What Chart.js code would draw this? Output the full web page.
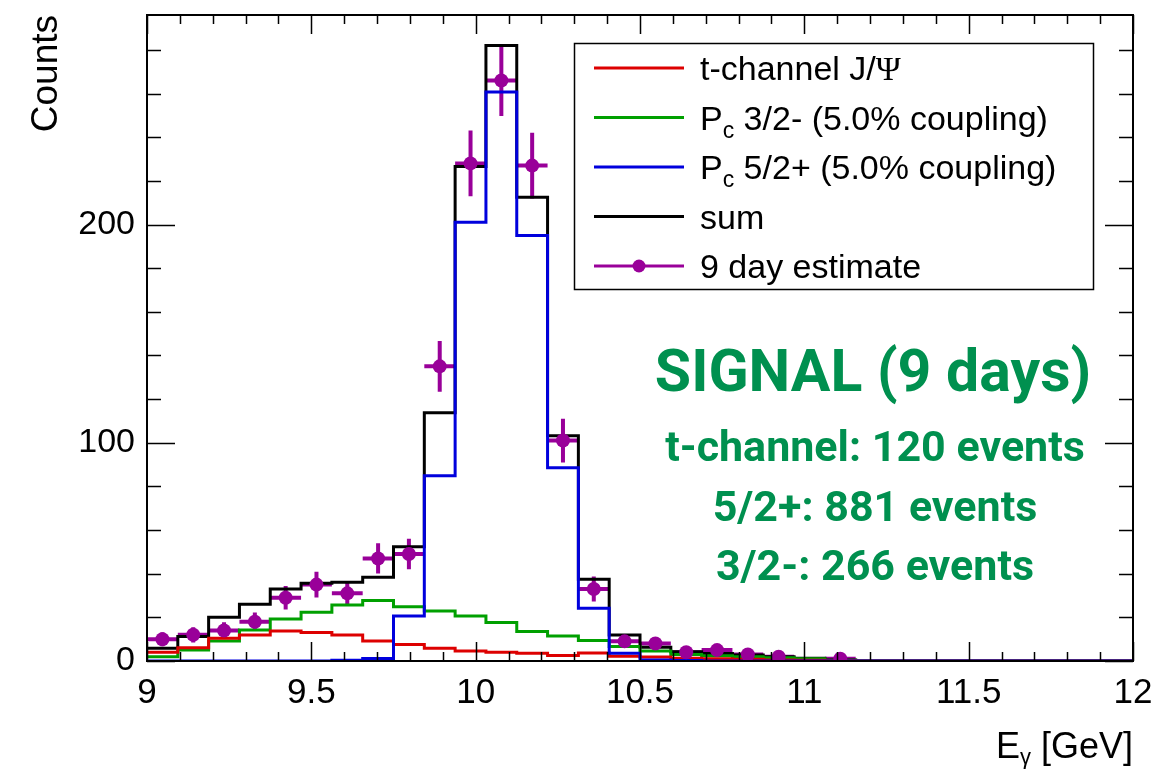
<!DOCTYPE html>
<html>
<head>
<meta charset="utf-8">
<title>SIGNAL (9 days)</title>
<script src="https://cdn.jsdelivr.net/npm/chart.js@4.4.1/dist/chart.umd.min.js"></script>
<style>
  html, body { margin: 0; padding: 0; background: #fff; }
  #plot { display: block; }
</style>
</head>
<body>
<canvas id="plot" width="1174" height="771"></canvas>
<script>
/* E_gamma histogram, 32 bins from 9 to 12 GeV */
const binEdges = [9.0, 9.09375, 9.1875, 9.28125, 9.375, 9.46875, 9.5625, 9.65625, 9.75, 9.84375,
  9.9375, 10.03125, 10.125, 10.21875, 10.3125, 10.40625, 10.5, 10.59375, 10.6875, 10.78125,
  10.875, 10.96875, 11.0625, 11.15625, 11.25, 11.34375, 11.4375, 11.53125, 11.625, 11.71875,
  11.8125, 11.90625, 12.0];

const tChannel = [4.0, 6.1, 10.4, 11.9, 13.8, 13.1, 11.9, 9.2, 7.6, 5.8, 4.6, 4.0, 3.5, 2.5, 3.7, 2.2,
  1.8, 1.3, 1.0, 0.8, 0.5, 0.3, 0.1, 0, 0, 0, 0, 0, 0, 0, 0, 0];
const pc32minus = [2.0, 5.0, 9.2, 14.2, 19.3, 22.3, 25.7, 27.7, 24.9, 22.9, 20.6, 17.6, 13.5, 11.5, 9.4, 6.6,
  4.6, 3.0, 2.4, 2.0, 1.5, 1.0, 0.4, 0, 0, 0, 0, 0, 0, 0, 0, 0];
const pc52plus = [0, 0, 0, 0, 0, 0, 0.3, 1.2, 20.6, 84.9, 201, 260.7, 195, 88.5, 24.2, 3.5,
  0.5, 0.2, 0, 0, 0, 0, 0, 0, 0, 0, 0, 0, 0, 0, 0, 0];
const sumHist = [5.8, 11.2, 20, 26, 33, 35.6, 36.1, 38.4, 52.4, 113.7, 226.6, 282, 212.5, 103.2, 37.5, 11.9,
  6.3, 4.2, 3.4, 2.7, 2.0, 1.3, 0.5, 0, 0, 0, 0, 0, 0, 0, 0, 0];

/* 9 day pseudo-data and its vertical errors */
const estCounts = [10, 12, 14, 18, 29, 35, 31, 47, 49, 135, 228, 266, 227, 101, 33, 9,
  8, 4, 5, 3, 2, null, 1, null, null, null, null, null, null, null, null, null];
const estErrors = [3.2, 3.5, 3.7, 4.2, 5.4, 5.9, 5.6, 6.9, 7.0, 11.6, 15.1, 16.3, 15.1, 10.0, 5.7, 3.0,
  2.8, 2.0, 2.2, 1.7, 1.4, null, 1.0, null, null, null, null, null, null, null, null, null];

const xTicks = [9, 9.5, 10, 10.5, 11, 11.5, 12];
const yTicks = [0, 100, 200];
const yMax = 296;

const legendItems = [
  { text: 't-channel J/', tail: 'Ψ', color: '#dd0000' },
  { text: 'P', sub: 'c', rest: ' 3/2- (5.0% coupling)', color: '#00a000' },
  { text: 'P', sub: 'c', rest: ' 5/2+ (5.0% coupling)', color: '#0000dd' },
  { text: 'sum', color: '#000000' },
  { text: '9 day estimate', color: '#990099', marker: true }
];
const signalLines = ['t-channel: 120 events', '5/2+: 881 events', '3/2-: 266 events'];

const FONT = '"Liberation Sans", Arial, Helvetica, sans-serif';

function stepPoints(values) {
  const pts = values.map((v, i) => ({ x: binEdges[i], y: v }));
  pts.push({ x: binEdges[binEdges.length - 1], y: values[values.length - 1] });
  return pts;
}

// 'before' in chart.js keeps the previous value up to the next edge
function histDataset(label, values, color, order) {
  return {
    label, data: stepPoints(values), borderColor: color, backgroundColor: color,
    borderWidth: 3, stepped: 'before', pointRadius: 0, fill: false, order
  };
}

const estPoints = estCounts.map((v, i) => ({
  x: (binEdges[i] + binEdges[i + 1]) / 2, y: v, lo: binEdges[i], hi: binEdges[i + 1], err: estErrors[i]
})).filter(p => p.y !== null);

/* ROOT-like frame, inward ticks on all sides, titles, legend, annotation */
const decorations = {
  id: 'decorations',
  beforeDatasetsDraw(chart) {
    // error bars under the markers
    const { ctx, scales: { x, y } } = chart;
    ctx.save();
    ctx.strokeStyle = '#990099';
    ctx.lineWidth = 4;
    estPoints.forEach(p => {
      const px = x.getPixelForValue(p.x), py = y.getPixelForValue(p.y);
      ctx.beginPath();
      ctx.moveTo(x.getPixelForValue(p.lo), py);
      ctx.lineTo(x.getPixelForValue(p.hi), py);
      ctx.moveTo(px, y.getPixelForValue(Math.max(0, p.y - p.err)));
      ctx.lineTo(px, y.getPixelForValue(p.y + p.err));
      ctx.stroke();
    });
    ctx.restore();
  },
  afterDraw(chart) {
    const { ctx, chartArea: a, scales: { x, y } } = chart;
    ctx.save();
    ctx.strokeStyle = '#000';
    ctx.lineWidth = 2;
    ctx.strokeRect(a.left, a.top, a.right - a.left, a.bottom - a.top);

    ctx.lineWidth = 1.5;
    ctx.beginPath();
    for (let k = 0; k <= 30; k++) {
      const v = 9 + k * 0.1;
      const px = Math.round(x.getPixelForValue(v)) + 0.5;
      const len = (k % 5 === 0) ? 19 : 9;
      ctx.moveTo(px, a.bottom); ctx.lineTo(px, a.bottom - len);
      ctx.moveTo(px, a.top); ctx.lineTo(px, a.top + len);
    }
    for (let v = 0; v <= 280; v += 20) {
      const py = Math.round(y.getPixelForValue(v)) + 0.5;
      const len = (v % 100 === 0) ? 28 : 14;
      ctx.moveTo(a.left, py); ctx.lineTo(a.left + len, py);
      ctx.moveTo(a.right, py); ctx.lineTo(a.right - len, py);
    }
    ctx.stroke();

    // axis titles
    ctx.fillStyle = '#000';
    ctx.font = '37px ' + FONT;
    ctx.save();
    ctx.translate(57, a.top);
    ctx.rotate(-Math.PI / 2);
    ctx.textAlign = 'right';
    ctx.textBaseline = 'alphabetic';
    ctx.fillText('Counts', 0, 0);
    ctx.restore();

    ctx.textAlign = 'left';
    ctx.textBaseline = 'alphabetic';
    const base = 758;
    ctx.font = '36px ' + FONT;
    const w1 = ctx.measureText('E').width;
    ctx.font = '22px ' + FONT;
    const w2 = ctx.measureText('γ').width;
    ctx.font = '36px ' + FONT;
    const w3 = ctx.measureText(' [GeV]').width;
    let tx = a.right - (w1 + w2 + w3);
    ctx.fillText('E', tx, base);
    ctx.font = '22px ' + FONT;
    ctx.fillText('γ', tx + w1, base + 6);
    ctx.font = '36px ' + FONT;
    ctx.fillText(' [GeV]', tx + w1 + w2, base);

    // legend box
    const box = { l: 574, t: 43, r: 1093, b: 289 };
    ctx.fillStyle = '#fff';
    ctx.fillRect(box.l, box.t, box.r - box.l, box.b - box.t);
    ctx.strokeStyle = '#000';
    ctx.lineWidth = 1.5;
    ctx.strokeRect(box.l + 0.5, box.t + 0.5, box.r - box.l, box.b - box.t);
    legendItems.forEach((it, i) => {
      const cy = 68 + i * 49.5;
      ctx.strokeStyle = it.color;
      ctx.lineWidth = 3;
      ctx.beginPath();
      ctx.moveTo(594, cy); ctx.lineTo(684, cy);
      ctx.stroke();
      if (it.marker) {
        ctx.fillStyle = it.color;
        ctx.beginPath();
        ctx.arc(639, cy, 6.5, 0, Math.PI * 2);
        ctx.fill();
      }
      ctx.fillStyle = '#000';
      ctx.font = '34px ' + FONT;
      const bl = cy + 12;
      let cx = 700;
      ctx.fillText(it.text, cx, bl);
      cx += ctx.measureText(it.text).width;
      if (it.tail) {
        ctx.font = '34px "Liberation Serif", "Times New Roman", serif';
        ctx.fillText(it.tail, cx, bl);
      }
      if (it.sub) {
        ctx.font = '23px ' + FONT;
        ctx.fillText(it.sub, cx, bl + 8);
        cx += ctx.measureText(it.sub).width;
        ctx.font = '34px ' + FONT;
        ctx.fillText(it.rest, cx, bl);
      }
    });

    // signal annotation
    ctx.fillStyle = '#00904f';
    ctx.textAlign = 'center';
    ctx.font = 'bold 59px Roboto, sans-serif';
    ctx.fillText('SIGNAL (9 days)', 873, 391);
    ctx.font = 'bold 43px Roboto, sans-serif';
    const bases = [461, 521, 580];
    signalLines.forEach((s, i) => ctx.fillText(s, 875, bases[i]));
    ctx.restore();
  }
};

new Chart(document.getElementById('plot'), {
  type: 'line',
  data: {
    datasets: [
      {
        label: '9 day estimate', data: estPoints, showLine: false,
        pointRadius: 7, pointHoverRadius: 7, pointBackgroundColor: '#990099',
        pointBorderColor: '#990099', pointBorderWidth: 0, order: 0
      },
      histDataset('P_c 5/2+ (5.0% coupling)', pc52plus, '#0000dd', 1),
      histDataset('t-channel J/Psi', tChannel, '#dd0000', 2),
      histDataset('P_c 3/2- (5.0% coupling)', pc32minus, '#00a000', 3),
      histDataset('sum', sumHist, '#000000', 4)
    ]
  },
  options: {
    responsive: false,
    animation: false,
    devicePixelRatio: 1,
    layout: { padding: { left: 0, right: 41, top: 15, bottom: 0 } },
    plugins: { legend: { display: false }, tooltip: { enabled: false } },
    scales: {
      x: {
        type: 'linear', min: 9, max: 12,
        grid: { display: false, drawTicks: false },
        border: { display: false },
        afterFit(scale) { scale.height = 110; scale.paddingLeft = 0; scale.paddingRight = 0; },
        afterBuildTicks(scale) { scale.ticks = xTicks.map(v => ({ value: v })); },
        ticks: {
          autoSkip: false, maxRotation: 0, padding: 11, color: '#000',
          font: { family: FONT, size: 35 },
          callback: v => String(v)
        }
      },
      y: {
        type: 'linear', min: 0, max: yMax,
        grid: { display: false, drawTicks: false },
        border: { display: false },
        afterFit(scale) { scale.width = 147; scale.paddingTop = 0; scale.paddingBottom = 0; },
        afterBuildTicks(scale) { scale.ticks = yTicks.map(v => ({ value: v })); },
        ticks: {
          padding: 12, color: '#000',
          font: { family: FONT, size: 34 },
          callback: v => String(v)
        }
      }
    }
  },
  plugins: [decorations]
});
</script>
</body>
</html>
